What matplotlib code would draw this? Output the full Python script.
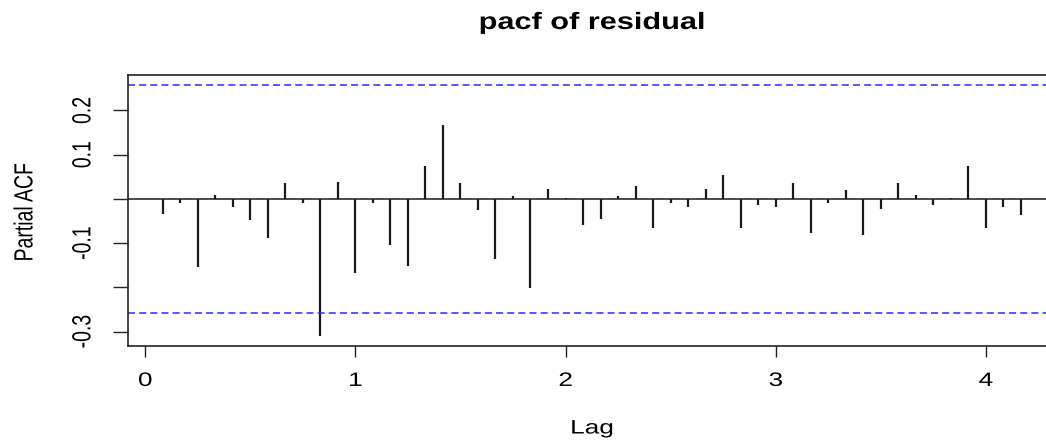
import numpy as np
import matplotlib
matplotlib.use("Agg")
import matplotlib.pyplot as plt
from matplotlib.patheffects import AbstractPathEffect
from matplotlib.transforms import Affine2D

# pacf values of the residual series, lags 1..50 (monthly, freq 12)
lag_index = list(range(1, 51))
pacf_vals = [-0.034, -0.010, -0.155, 0.009, -0.018, -0.048, -0.089, 0.036, -0.010, -0.310,
             0.039, -0.168, -0.010, -0.105, -0.151, 0.075, 0.167, 0.036, -0.026, -0.136,
             0.006, -0.201, 0.023, 0.003, -0.060, -0.046, 0.006, 0.028, -0.065, -0.010,
             -0.018, 0.023, 0.055, -0.067, -0.015, -0.018, 0.036, -0.078, -0.010, 0.020,
             -0.081, -0.023, 0.036, 0.009, -0.013, 0.002, 0.075, -0.067, -0.018, -0.037]
freq = 12
n_obs = 58
x_ticks = [0, 1, 2, 3, 4]
y_ticks = [-0.3, -0.2, -0.1, 0.0, 0.1, 0.2]
y_ticklabels = ["-0.3", "", "-0.1", "", "0.1", "0.2"]


class Stretch(AbstractPathEffect):
    # the source image is stretched sideways, so widen glyphs about their centre
    def __init__(self, sx=1.35):
        super().__init__()
        self.sx = sx

    def draw_path(self, renderer, gc, tpath, affine, rgbFace=None):
        v = affine.transform(tpath.vertices)
        if len(v) == 0:
            return
        cx = 0.5 * (v[:, 0].min() + v[:, 0].max())
        aff = affine + Affine2D().translate(-cx, 0).scale(self.sx, 1).translate(cx, 0)
        renderer.draw_path(gc, tpath, aff, rgbFace)


plt.rcParams['font.family'] = ['Liberation Sans', 'DejaVu Sans']
fx = [Stretch()]

lags = np.array(lag_index) / freq
vals = np.array(pacf_vals)
clim = 1.96 / np.sqrt(n_obs)

W, H = 1046, 440
fig = plt.figure(figsize=(W / 100, H / 100), dpi=100)

# R style limits: data range padded by 4%
xr = [lags.min(), lags.max()]
xpad = 0.04 * (xr[1] - xr[0])
xlim = (xr[0] - xpad, xr[1] + xpad)
yr = [min(vals.min(), -clim), max(vals.max(), clim)]
ypad = 0.04 * (yr[1] - yr[0])
ylim = (yr[0] - ypad, yr[1] + ypad)

left, top, bottom = 128.3, 75, 346
px_per_unit = 210.2
ax = fig.add_axes([left / W, (H - bottom) / H,
                   (xlim[1] - xlim[0]) * px_per_unit / W, (bottom - top) / H])

blue = '#2a2aff'
ax.vlines(lags, 0, vals, color='#1a1a1a', lw=1.6)
ax.axhline(0, color='#1a1a1a', lw=1.1)
ax.axhline(clim, color=blue, lw=1.1, ls=(0, (4.6, 2.7)))
ax.axhline(-clim, color=blue, lw=1.1, ls=(0, (4.6, 2.7)))

ax.set_xlim(*xlim)
ax.set_ylim(*ylim)
for s in ax.spines.values():
    s.set_color('#222222')
    s.set_linewidth(1.2)

ax.set_xticks(x_ticks)
ax.set_xticklabels([str(t) for t in x_ticks])
ax.set_yticks(y_ticks)
ax.set_yticklabels(y_ticklabels, rotation=90, va='center')
ax.tick_params(axis='x', length=7.9, width=1.0, pad=11.5, labelsize=14, color='#222222')
ax.tick_params(axis='y', length=10.8, width=1.0, pad=15.3, labelsize=14, color='#222222')
for lab in ax.get_xticklabels() + ax.get_yticklabels():
    lab.set_path_effects(fx)

fig.text(592 / W, (H - 29) / H, "pacf of residual", ha='center',
         va='baseline', fontsize=17, fontweight='bold', path_effects=[Stretch(1.3)])
fig.text(592 / W, (H - 433.5) / H, "Lag", ha='center', va='baseline',
         fontsize=14, path_effects=fx)
fig.text(30 / W, (H - 212) / H, "Partial ACF", ha='center', va='baseline',
         rotation=90, rotation_mode='anchor', fontsize=14, path_effects=fx)

fig.savefig("out.png", dpi=100)
